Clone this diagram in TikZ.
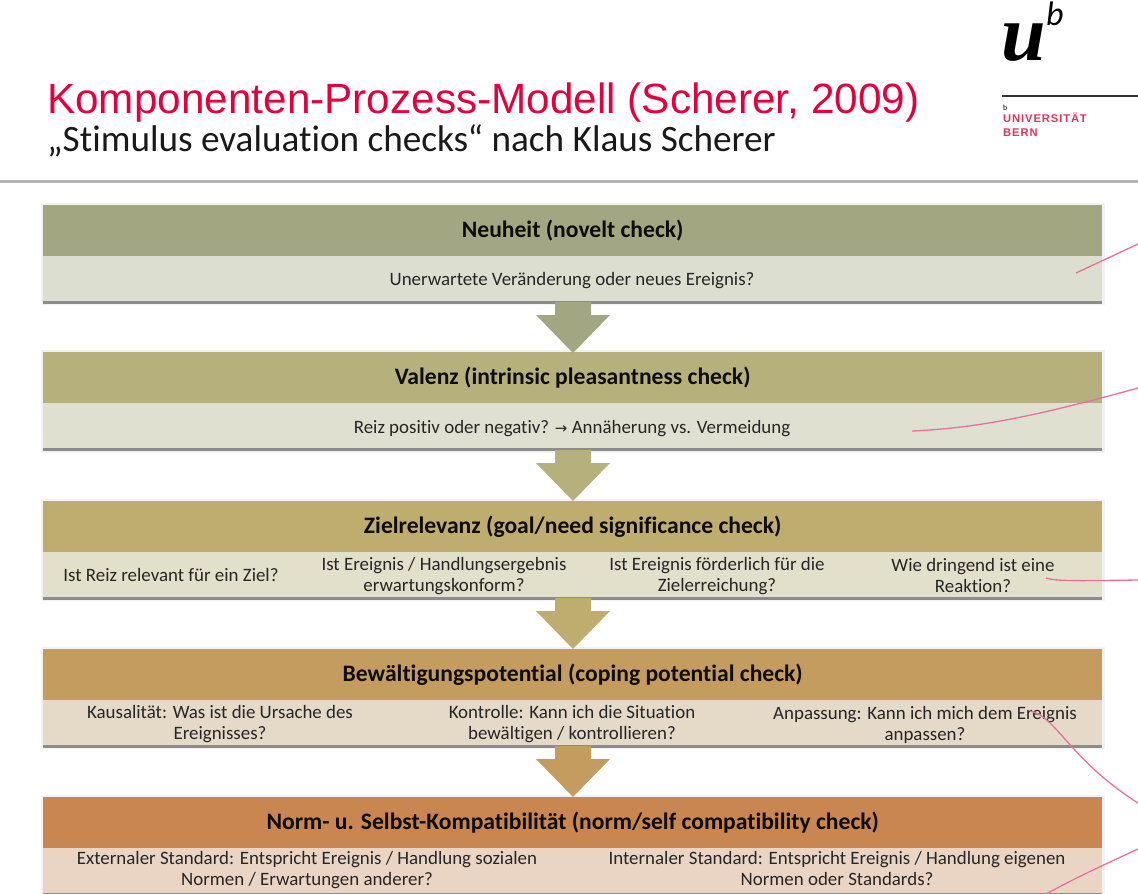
\documentclass[tikz,border=0pt]{standalone}
\usepackage{fontspec}
\setmainfont[Ligatures=NoCommon]{Carlito}
\newfontfamily\titlefont{Liberation Sans}
\newfontfamily\logofont{Liberation Serif}
\definecolor{titlered}{HTML}{E3003F}
\definecolor{ubred}{HTML}{E0345C}
\definecolor{pinkline}{HTML}{E8709E}
\definecolor{rulegray}{HTML}{B4B4B4}
\definecolor{hA}{HTML}{A3A781}\definecolor{bA}{HTML}{DCDECF}
\definecolor{hB}{HTML}{B6B07C}\definecolor{bB}{HTML}{DFE0D0}
\definecolor{hC}{HTML}{BFAC6F}\definecolor{bC}{HTML}{E2DFCB}
\definecolor{hD}{HTML}{C59C5F}\definecolor{bD}{HTML}{E5D9C7}
\definecolor{hE}{HTML}{C98651}\definecolor{bE}{HTML}{EAD5C4}
\tikzset{
  band/.style={draw=none,minimum width=1059pt,inner sep=0pt,anchor=north west},
  headband/.style={band,minimum height=51pt,font=\fontsize{23.6}{26}\selectfont\bfseries,text=black!95},
  bodyband/.style={band,minimum height=45pt,preaction={draw=none,fill=black!45,transform canvas={yshift=-2.5pt}}},
  bodytext/.style={font=\fontsize{18.9}{21}\selectfont,align=center,text=black!85,inner sep=0pt},
  annot/.style={draw=pinkline,line width=1.3pt},
}
\newcommand{\downblock}[4]{%
  \fill[#4] (#1-18,#2) -- (#1+18,#2) -- (#1+18,#2+13) -- (#1+37,#2+13) -- (#1,#3) -- (#1-37,#2+13) -- (#1-18,#2+13) -- cycle;}
\begin{document}
\begin{tikzpicture}[x=1pt,y=-1pt]
\useasboundingbox (0,0) rectangle (1138,894);
\fill[white] (0,0) rectangle (1138,894);
% title
\node[anchor=base west,inner sep=0pt,text=titlered,font=\titlefont\fontsize{42.3}{46}\selectfont] (title) at (47,113) {Komponenten-Prozess-Modell (Scherer, 2009)};
\node[anchor=base west,inner sep=0pt,text=black!90,font=\fontsize{37.2}{40}\selectfont] (subtitle) at (47,151) {„Stimulus evaluation checks“ nach Klaus Scherer};
% logo
\node[anchor=base west,inner sep=0pt,font=\logofont\bfseries\itshape\fontsize{80}{80}\selectfont] (logou) at (1001,60) {u};
\node[anchor=base west,inner sep=0pt,font=\itshape\fontsize{34}{34}\selectfont] (logob) at (1046,25) {b};
\coordinate (logoL) at (1002,96);
\coordinate (logoR) at (1138,96);
\draw[line width=1.3pt,black!80] (logoL) -- (logoR);
\node[anchor=base west,inner sep=0pt,font=\fontsize{8}{8}\selectfont] (logos) at (1003,110) {b};
\node[anchor=north west,inner sep=0pt,align=left,text=ubred,font=\titlefont\bfseries\fontsize{11.2}{14}\selectfont] (logot) at (1003,113) {\addfontfeatures{LetterSpace=8}UNIVERSITÄT\\\addfontfeatures{LetterSpace=8}BERN};
\fill[rulegray] (0,179.5) rectangle (1138,183);
% bands
\fill[black!5] (41,203) rectangle (1105,305);
\fill[black!5] (41,350) rectangle (1105,453);
\fill[black!5] (41,499) rectangle (1105,601);
\fill[black!5] (41,647) rectangle (1105,749);
\fill[black!5] (41,795) rectangle (1105,894);
\node[headband,fill=hA] (h1) at (43,205) {Neuheit (novelt check)};
\node[bodyband,fill=bA] (b1) at (43,256) {};
\node[headband,fill=hB] (h2) at (43,352) {Valenz (intrinsic pleasantness check)};
\node[bodyband,fill=bB] (b2) at (43,403) {};
\node[headband,fill=hC] (h3) at (43,501) {Zielrelevanz (goal/need significance check)};
\node[bodyband,fill=bC] (b3) at (43,552) {};
\node[headband,fill=hD] (h4) at (43,649) {Bewältigungspotential (coping potential check)};
\node[bodyband,fill=bD] (b4) at (43,700) {};
\node[headband,fill=hE] (h5) at (43,797) {Norm- u. Selbst-Kompatibilität (norm/self compatibility check)};
\node[bodyband,fill=bE] (b5) at (43,848) {};
% arrows
\downblock{573}{302}{353}{hA}
\downblock{573}{450}{501}{hB}
\downblock{573}{598}{649}{hC}
\downblock{573}{746}{797}{hD}
% body texts
\node[bodytext] (t1) at (572,281) {Unerwartete Veränderung oder neues Ereignis?};
\node[bodytext] (t2) at (572,429) {Reiz positiv oder negativ? {\fontspec{DejaVu Sans}\fontsize{15}{15}\selectfont →} Annäherung vs. Vermeidung};
\node[bodytext] (t3a) at (171,575.5) {Ist Reiz relevant für ein Ziel?};
\node[bodytext] (t3b) at (444,576) {Ist Ereignis / Handlungsergebnis\\erwartungskonform?};
\node[bodytext] (t3c) at (717,576) {Ist Ereignis förderlich für die\\Zielerreichung?};
\node[bodytext] (t3d) at (973,576) {Wie dringend ist eine\\Reaktion?};
\node[bodytext] (t4a) at (220,724.5) {Kausalität: Was ist die Ursache des\\Ereignisses?};
\node[bodytext] (t4b) at (572,724.5) {Kontrolle: Kann ich die Situation\\bewältigen / kontrollieren?};
\node[bodytext] (t4c) at (925,724.5) {Anpassung: Kann ich mich dem Ereignis\\anpassen?};
\node[bodytext] (t5a) at (307,870) {Externaler Standard: Entspricht Ereignis / Handlung sozialen\\Normen / Erwartungen anderer?};
\node[bodytext] (t5b) at (837,868.5) {Internaler Standard: Entspricht Ereignis / Handlung eigenen\\Normen oder Standards?};
% annotation strokes
\coordinate (a1s) at (1076,273); \coordinate (a1e) at (1138,244);
\coordinate (a2s) at (912,431); \coordinate (a2e) at (1138,388);
\coordinate (a3s) at (1046,578); \coordinate (a3e) at (1138,580);
\coordinate (a4s) at (1030,711); \coordinate (a4e) at (1138,803);
\coordinate (a5s) at (1046,894); \coordinate (a5e) at (1138,849);
\draw[annot] (a1s) -- (a1e);
\draw[annot] (a2s) .. controls (980,428) and (1040,415) .. (a2e);
\draw[annot] (a3s) .. controls (1056,581) and (1070,581) .. (a3e);
\draw[annot] (a4s) .. controls (1056,716) and (1070,760) .. (a4e);
\draw[annot] (a5s) .. controls (1075,878) and (1110,862) .. (a5e);
\end{tikzpicture}
\end{document}
